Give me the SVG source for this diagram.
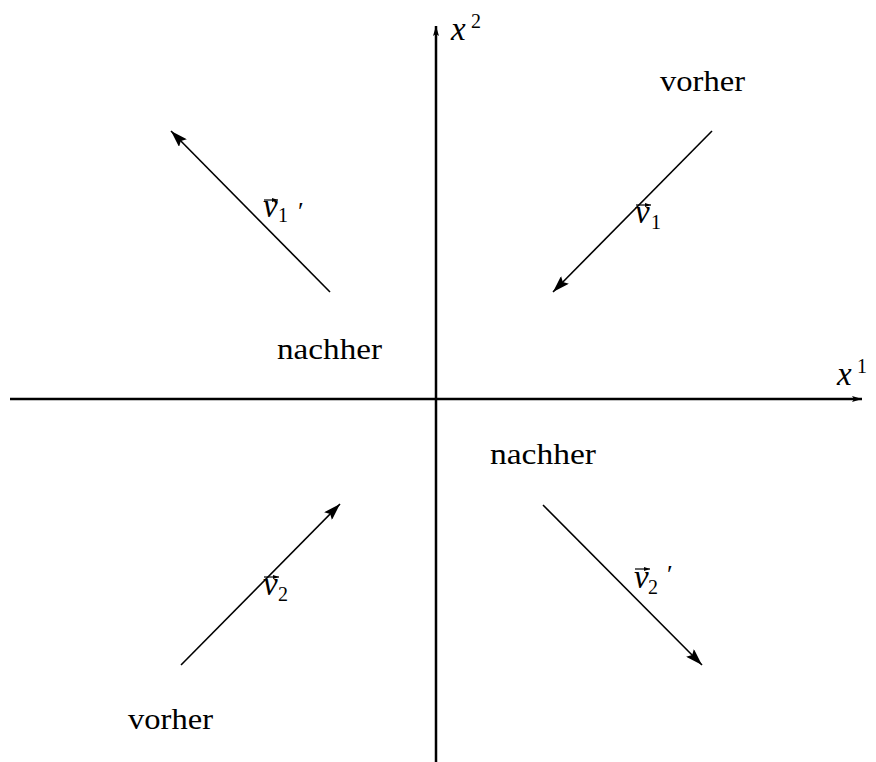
<svg xmlns="http://www.w3.org/2000/svg" width="876" height="762" viewBox="0 0 876 762">
<style>
.t{font-family:"Liberation Serif","Times New Roman",serif;font-size:29px;fill:#000}
.m{font-family:"Liberation Serif","Times New Roman",serif;font-style:italic;font-size:33px;fill:#000}
.s{font-family:"Liberation Serif","Times New Roman",serif;font-size:20px;fill:#000}
.p{font-family:"Liberation Serif","Times New Roman",serif;font-size:26px;fill:#000}
.ax{stroke:#000;stroke-width:2.5;fill:none}
.vec{stroke:#000;stroke-width:1.6;fill:none}
.acc{stroke:#000;stroke-width:1.2;fill:none}
</style>
<defs>
<marker id="ah" viewBox="0 0 10 6" refX="10" refY="3" markerWidth="10" markerHeight="6" markerUnits="userSpaceOnUse" orient="auto"><path d="M0,0 L10,3 L0,6 L2,3 Z" fill="#000"/></marker>
<marker id="vh" viewBox="0 0 17 11" refX="17" refY="5.5" markerWidth="17" markerHeight="11" markerUnits="userSpaceOnUse" orient="auto"><path d="M0,0 L17,5.5 L0,11 L3,5.5 Z" fill="#000"/></marker>
<marker id="sh" viewBox="0 0 6 4" refX="6" refY="2" markerWidth="6" markerHeight="4" markerUnits="userSpaceOnUse" orient="auto"><path d="M0,0 L6,2 L0,4 Z" fill="#000"/></marker>
</defs>
<g id="axes">
<line class="ax" x1="10" y1="399" x2="862" y2="399" marker-end="url(#ah)"/>
<line class="ax" x1="436" y1="762" x2="436" y2="26" marker-end="url(#ah)"/>
<g id="label-x2"><text class="m" x="451" y="40">x</text><text class="s" x="471" y="28">2</text></g>
<g id="label-x1"><text class="m" x="837" y="385">x</text><text class="s" x="857" y="373">1</text></g>
</g>
<g id="connectors">
<line class="vec" x1="330" y1="292" x2="171" y2="131" marker-end="url(#vh)"/>
<line class="vec" x1="712" y1="131" x2="553" y2="292" marker-end="url(#vh)"/>
<line class="vec" x1="181" y1="665" x2="340" y2="504" marker-end="url(#vh)"/>
<line class="vec" x1="543" y1="505" x2="702" y2="665" marker-end="url(#vh)"/>
</g>
<g id="v1prime">
<line class="acc" x1="264" y1="200" x2="278" y2="200" marker-end="url(#sh)"/>
<text class="m" x="263" y="217">v</text><text class="s" x="278" y="222">1</text><text class="p" x="298" y="220">′</text>
</g>
<g id="v1">
<line class="acc" x1="636" y1="205" x2="651" y2="205" marker-end="url(#sh)"/>
<text class="m" x="635" y="223">v</text><text class="s" x="651" y="229">1</text>
</g>
<g id="v2">
<line class="acc" x1="264" y1="577" x2="279" y2="577" marker-end="url(#sh)"/>
<text class="m" x="263" y="595">v</text><text class="s" x="278" y="601">2</text>
</g>
<g id="v2prime">
<line class="acc" x1="635" y1="569" x2="650" y2="569" marker-end="url(#sh)"/>
<text class="m" x="634" y="588">v</text><text class="s" x="648" y="594">2</text><text class="p" x="667" y="583">′</text>
</g>
<g id="vorher-top"><text class="t" x="660" y="91" textLength="85" lengthAdjust="spacingAndGlyphs">vorher</text></g>
<g id="nachher-left"><text class="t" x="277" y="359" textLength="105" lengthAdjust="spacingAndGlyphs">nachher</text></g>
<g id="nachher-right"><text class="t" x="490" y="464" textLength="106" lengthAdjust="spacingAndGlyphs">nachher</text></g>
<g id="vorher-bottom"><text class="t" x="128" y="729" textLength="85" lengthAdjust="spacingAndGlyphs">vorher</text></g>
</svg>
